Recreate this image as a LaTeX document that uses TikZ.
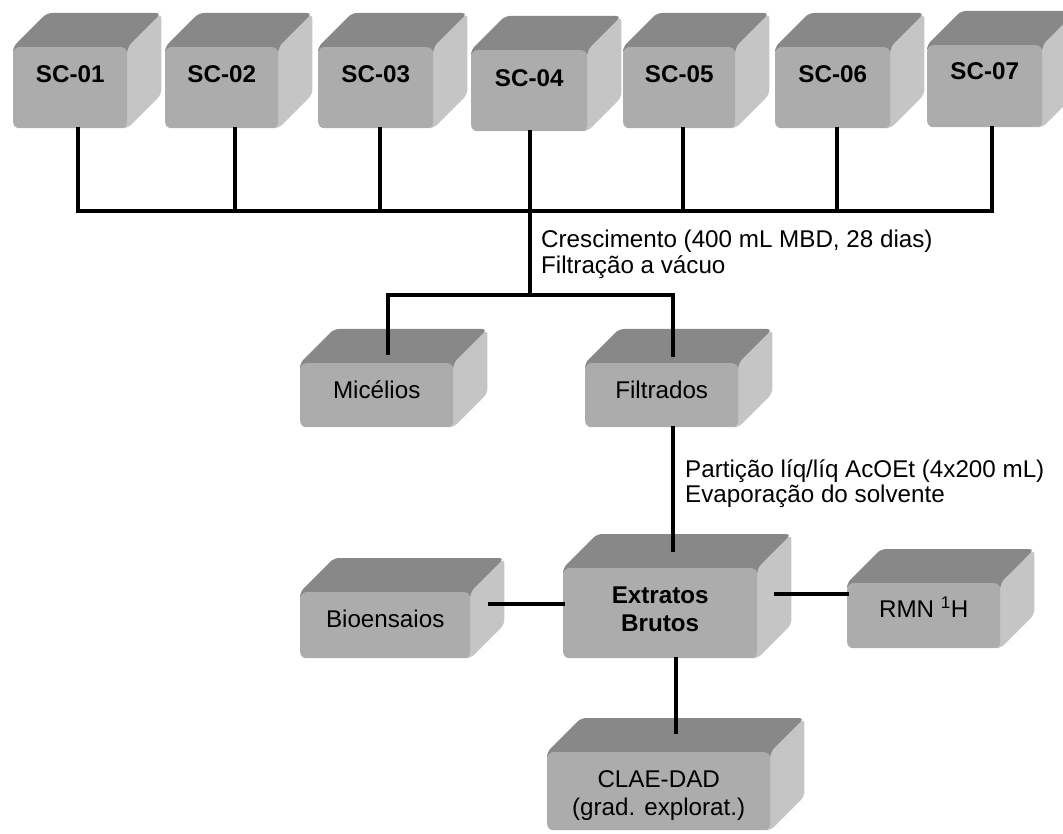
\documentclass[tikz,border=0pt]{standalone}
\usepackage{fontspec}
\setmainfont{Liberation Sans}
\usetikzlibrary{calc,backgrounds}
\definecolor{frontc}{RGB}{172,172,172}
\definecolor{topc}{RGB}{136,136,136}
\definecolor{sidec}{RGB}{197,197,197}
\def\dd{34}
\newcommand\cubeback[1]{%
  \fill[sidec, rounded corners=5pt] ($(#1.north east)+(-8,0)$) -- (#1.north east) -- ($(#1.north east)+(\dd,-\dd)$) -- ($(#1.south east)+(\dd,-\dd)$) -- (#1.south east) -- ($(#1.south east)+(-8,0)$) -- cycle;
  \fill[topc, rounded corners=5pt] ($(#1.north west)+(0,8)$) -- (#1.north west) -- ($(#1.north west)+(\dd,-\dd)$) -- ($(#1.north east)+(\dd,-\dd)$) -- (#1.north east) -- ($(#1.north east)+(0,8)$) -- cycle;
}
\tikzset{
  box/.style={fill=frontc, rounded corners=6pt, inner sep=0pt, anchor=north west,
    font=\fontsize{24.2pt}{28pt}\selectfont},
  boldbox/.style={box, font=\fontsize{24.2pt}{28pt}\selectfont\bfseries},
  anot/.style={inner sep=0pt, anchor=base west, font=\fontsize{24.2pt}{25.5pt}\selectfont},
  link/.style={line width=3.2pt, line cap=rect},
}
\begin{document}
\begin{tikzpicture}[x=1pt,y=-1pt]
\useasboundingbox (0,0) rectangle (1063,834);
% top row
\node[boldbox, minimum width=114pt, text height=35pt, text depth=46pt] (sc1) at (13,47) {SC-01};
\node[boldbox, minimum width=113pt, text height=35pt, text depth=46pt] (sc2) at (165,47) {SC-02};
\node[boldbox, minimum width=115pt, text height=35pt, text depth=46pt] (sc3) at (318,47) {SC-03};
\node[boldbox, minimum width=116pt, text height=36pt, text depth=45pt] (sc4) at (471,50) {SC-04};
\node[boldbox, minimum width=112pt, text height=35pt, text depth=46pt] (sc5) at (623,47) {SC-05};
\node[boldbox, minimum width=115pt, text height=35pt, text depth=46pt] (sc6) at (775,47) {SC-06};
\node[boldbox, minimum width=115pt, text height=34pt, text depth=48pt] (sc7) at (927,45) {SC-07};
% middle
\node[box, minimum width=153pt, text height=35pt, text depth=29pt] (mic) at (300,363) {Micélios};
\node[box, minimum width=153pt, text height=35pt, text depth=29pt] (fil) at (585,363) {Filtrados};
% lower
\node[boldbox, minimum width=194pt, text height=35pt, text depth=55pt] (ext) at (563,568)
  {\begin{tabular}[t]{@{}c@{}}Extratos\\Brutos\end{tabular}};
\node[box, minimum width=170pt, text height=35pt, text depth=31pt] (bio) at (300,592) {Bioensaios};
\node[box, minimum width=153pt, text height=34pt, text depth=31pt] (rmn) at (847,583) {RMN \textsuperscript{1}H};
\node[box, minimum width=223pt, text height=35pt, text depth=43pt] (clae) at (547,752)
  {\begin{tabular}[t]{@{}c@{}}CLAE-DAD\\(grad. explorat.)\end{tabular}};
\begin{scope}[on background layer]
\foreach \n in {sc1,sc2,sc3,sc4,sc5,sc6,sc7,mic,fil,ext,bio,rmn,clae}{\cubeback{\n}}
\end{scope}
% annotations
\node[anot] (t1) at (541,248) {\begin{tabular}[t]{@{}l@{}}Crescimento (400 mL MBD, 28 dias)\\Filtração a vácuo\end{tabular}};
\node[anot] (t2) at (685,477) {\begin{tabular}[t]{@{}l@{}}Partição líq/líq AcOEt (4x200 mL)\\Evaporação do solvente\end{tabular}};
% connectors
\coordinate (b1) at (78,211);
\coordinate (b2) at (235,211);
\coordinate (b3) at (380,211);
\coordinate (b4) at (530,211);
\coordinate (b5) at (683,211);
\coordinate (b6) at (837,211);
\coordinate (b7) at (992,211);
\coordinate (j) at (530,295);
\coordinate (jm) at (388,295);
\coordinate (jf) at (673,295);
\draw[link] (sc1.south -| b1) -- (b1);
\draw[link] (sc2.south -| b2) -- (b2);
\draw[link] (sc3.south -| b3) -- (b3);
\draw[link] (sc5.south -| b5) -- (b5);
\draw[link] (sc6.south -| b6) -- (b6);
\draw[link] (sc7.south -| b7) -- (b7);
\draw[link] (b1) -- (b7);
\draw[link] (sc4.south -| j) -- (j);
\draw[link] (jm) -- (jf);
\draw[link] (jm) -- ($(mic.north -| jm)+(0,-10)$);
\draw[link] (jf) -- ($(fil.north -| jf)+(0,-8)$);
\draw[link] (fil.south -| jf) -- ($(ext.north -| jf)+(0,-18)$);
\coordinate (yb) at (0,604);
\coordinate (yr) at (0,594);
\coordinate (xc) at (676,0);
\draw[link] (ext.west |- yb) -- ($(bio.east |- yb)+(19,0)$);
\draw[link] ($(ext.east |- yr)+(18,0)$) -- (rmn.west |- yr);
\draw[link] (ext.south -| xc) -- ($(clae.north -| xc)+(0,-20)$);
\end{tikzpicture}
\end{document}
